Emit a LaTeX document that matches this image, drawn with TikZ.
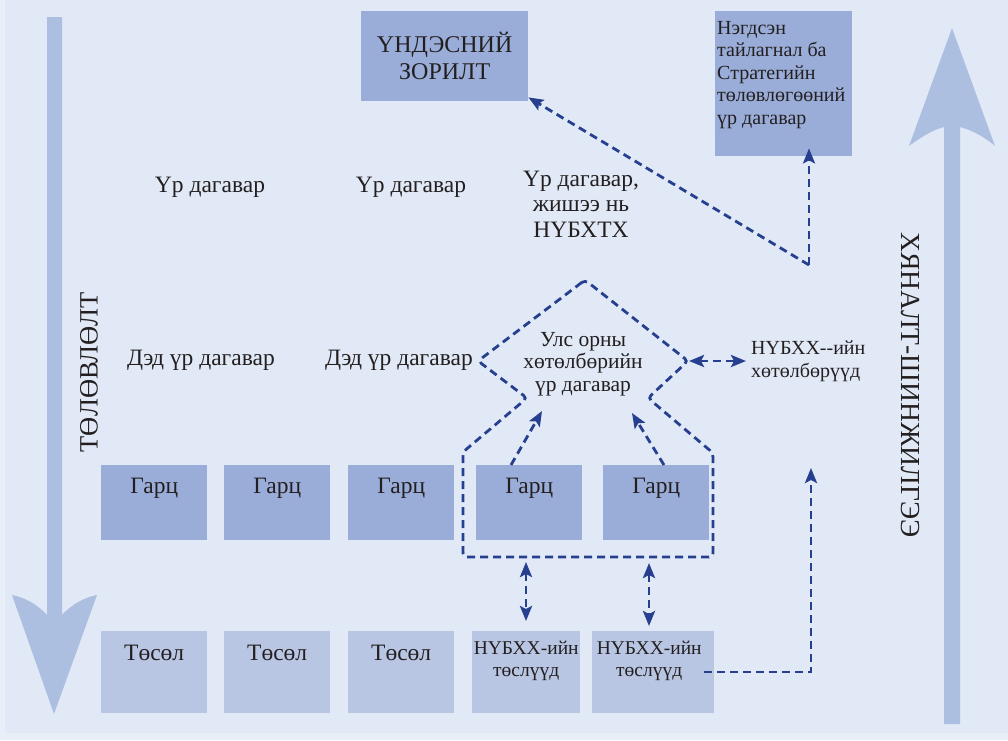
\documentclass[tikz,border=0pt]{standalone}
\usepackage{fontspec}
\setmainfont{Liberation Serif}
\usetikzlibrary{arrows.meta}

\definecolor{pagebg}{HTML}{E9EFF9}
\definecolor{bgpanel}{HTML}{E1E9F6}
\definecolor{boxdark}{HTML}{9AADD8}
\definecolor{boxlight}{HTML}{B8C6E3}
\definecolor{bigarrow}{HTML}{ADBFE0}
\definecolor{linkblue}{HTML}{26408F}
\definecolor{inktext}{HTML}{231F20}

\tikzset{
  tip/.style={-{Stealth[length=15pt,width=12pt,inset=3pt]}},
  dashline/.style={draw=linkblue, line width=2.8pt, dash pattern=on 8pt off 5pt},
  link/.style={dashline, tip},
  twoway/.style={dashline, {Stealth[length=15pt,width=12pt,inset=3pt]}-{Stealth[length=15pt,width=12pt,inset=3pt]}},
  outputbox/.style={fill=boxdark, anchor=north west, inner sep=0pt, minimum width=106pt, minimum height=75pt},
  projectbox/.style={fill=boxlight, anchor=north west, inner sep=0pt, minimum width=106pt, minimum height=82pt},
  boxtext/.style={anchor=base, inner sep=0pt, text=inktext, font=\fontsize{23.5}{27}\selectfont},
  smalltext/.style={anchor=north, inner sep=0pt, align=center, text=inktext, font=\fontsize{19.5}{21.5}\selectfont},
  lbl/.style={inner sep=0pt, align=center, text=inktext, font=\fontsize{23.5}{25.5}\selectfont}
}

\begin{document}
\begin{tikzpicture}[x=1pt, y=-1pt]
%%% panel %%%
\fill[pagebg] (0,0) rectangle (1008,740);
\fill[bgpanel] (5,0) rectangle (1008,733);
\useasboundingbox (0,0) rectangle (1008,740);

%% big arrows
\fill[bigarrow] (47,17) -- (62,17) -- (62,615)
  .. controls (73,603) and (86,597) .. (97,595) -- (54,714) -- (12,595)
  .. controls (23,597) and (36,603) .. (47,615) -- cycle;
\fill[bigarrow] (944,724) -- (960,724) -- (960,127)
  .. controls (972,130) and (986,138) .. (995,146) -- (952,28) -- (909,146)
  .. controls (920,138) and (932,130) .. (944,127) -- cycle;
\node[rotate=90, inner sep=0pt, text=inktext, font=\fontsize{26.5}{26.5}\selectfont] (planlbl) at (89,372) {ТӨЛӨВЛӨЛТ};
\node[rotate=-90, inner sep=0pt, text=inktext, font=\fontsize{27.5}{27.5}\selectfont] (monlbl) at (910,385) {ХЯНАЛТ-ШИНЖИЛГЭЭ};

%% top boxes
\node[fill=boxdark, anchor=north west, minimum width=167pt, minimum height=90pt, inner sep=0pt,
  align=center, text=inktext, font=\fontsize{24}{27}\selectfont] (goal) at (361,11) {ҮНДЭСНИЙ\\ЗОРИЛТ};
\node[fill=boxdark, anchor=north west, minimum width=137pt, minimum height=145pt] (unsp) at (715,11) {};
\node[anchor=north west, inner sep=0pt, align=left, text=inktext, font=\fontsize{20}{22.5}\selectfont] (unsptxt) at (717,21)
  {Нэгдсэн\\тайлагнал ба\\Стратегийн\\төлөвлөгөөний\\үр дагавар};

%% outcome row
\node[lbl] (res1) at (210,187) {Үр дагавар};
\node[lbl] (res2) at (411,187) {Үр дагавар};
\node[lbl] (res3) at (581,204) {Үр дагавар,\\жишээ нь\\НҮБХТХ};

%% sub-outcome row
\node[lbl] (sub1) at (201,360) {Дэд үр дагавар};
\node[lbl] (sub2) at (399,360) {Дэд үр дагавар};
\node[lbl, font=\fontsize{21.5}{22.5}\selectfont] (uls) at (583,364) {Улс орны\\хөтөлбөрийн\\үр дагавар};
\node[anchor=west, inner sep=0pt, align=left, text=inktext, font=\fontsize{20}{23}\selectfont] (undp) at (751,361)
  {НҮБХХ-{}-ийн\\хөтөлбөрүүд};

%% outputs
\foreach \n/\x in {1/101, 2/224, 3/348, 4/476, 5/603} {
  \node[outputbox] (g\n) at (\x,465) {};
  \node[boxtext] (g\n t) at ([yshift=-28pt]g\n.north) {Гарц};
}

%% projects
\foreach \n/\x in {1/101, 2/224, 3/348} {
  \node[projectbox] (p\n) at (\x,631) {};
  \node[boxtext] (p\n t) at ([yshift=-29pt]p\n.north) {Төсөл};
}
\node[projectbox, minimum width=108pt] (p4) at (472,631) {};
\node[projectbox, minimum width=122pt] (p5) at (592,631) {};
\node[smalltext] (p4t) at ([yshift=-10pt]p4.north) {НҮБХХ-ийн\\төслүүд};
\node[smalltext] (p5t) at ([xshift=-4pt, yshift=-10pt]p5.north) {НҮБХХ-ийн\\төслүүд};

%% country programme outline
\coordinate (rooftop) at (585,280);
\coordinate (roofl) at (478,361);
\coordinate (roofli) at (527,398);
\coordinate (grpnw) at (463,452);
\coordinate (grpsw) at (463,557);
\coordinate (grpse) at (713,557);
\coordinate (grpne) at (713,453);
\coordinate (roofri) at (648,398);
\coordinate (roofr) at (688,361);
\draw[dashline, rounded corners=4pt] (rooftop) -- (roofl) -- (roofli) -- (grpnw) -- (grpsw)
  -- (grpse) -- (grpne) -- (roofri) -- (roofr) -- cycle;

%% connectors
\coordinate (hub) at (809,265);
\coordinate (turn) at (811,672);
\coordinate (ulsl) at (542,411);
\coordinate (ulsr) at (632,413);
\draw[link] ([xshift=35pt]g4.north west) -- (ulsl);
\draw[link] ([xshift=61pt]g5.north west) -- (ulsr);
\draw[twoway] ([xshift=1pt]roofr) -- ([xshift=-5pt]undp.west);
\draw[twoway] (526,562) coordinate (a4) -- (526,621) coordinate (b4);
\draw[twoway] (649,563) coordinate (a5) -- (649,626) coordinate (b5);
\draw[link] ([xshift=-10pt]p5.east |- turn) -- (turn) -- (811,468);
\draw[link] (hub) -- ([yshift=8pt]unsp.south -| hub);
\draw[link] (hub) -- ([yshift=4pt]goal.south east);

\end{tikzpicture}
\end{document}
